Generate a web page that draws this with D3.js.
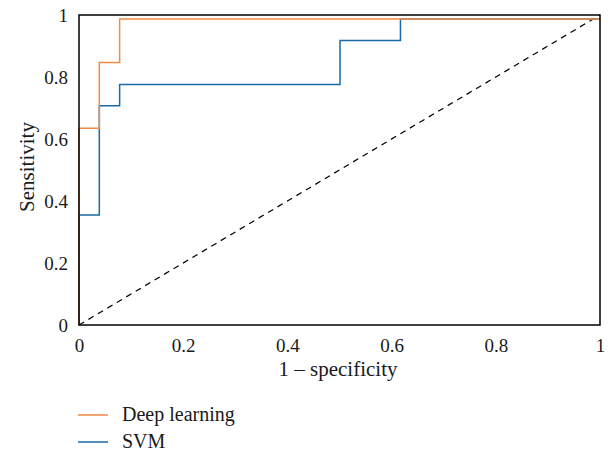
<!DOCTYPE html>
<html><head><meta charset="utf-8">
<script src="https://cdn.jsdelivr.net/npm/d3@7"></script>
<style>body{margin:0;background:#fff}svg text{font-family:"Liberation Serif","Times New Roman",serif !important;fill:#1a1a1a}</style>
</head><body><svg id="c" width="614" height="453"></svg>
<script>
const deepFPR = [0, 0, 0.039, 0.039, 0.078, 0.078, 1];
const deepTPR = [0, 0.635, 0.635, 0.847, 0.847, 0.987, 0.987];
const svmFPR = [0, 0, 0.039, 0.039, 0.078, 0.078, 0.501, 0.501, 0.617, 0.617, 1];
const svmTPR = [0, 0.355, 0.355, 0.707, 0.707, 0.776, 0.776, 0.918, 0.918, 0.987, 0.987];
const xTicks = [0, 0.2, 0.4, 0.6, 0.8, 1];
const yTicks = [0, 0.2, 0.4, 0.6, 0.8, 1];
const seriesNames = ["Deep learning", "SVM"];
const colors = ["#f38a42", "#1a6aa6"];

const svg = d3.select("#c");
const L = 79, R = 600, T = 15, B = 325;
const x = d3.scaleLinear().domain([0, 1]).range([L, R]);
const y = d3.scaleLinear().domain([0, 1]).range([B, T]);

svg.append("line").attr("x1", x(0)).attr("y1", y(0)).attr("x2", x(1)).attr("y2", y(1))
  .attr("stroke", "#000").attr("stroke-width", 1.2).attr("stroke-dasharray", "6,5");

const line = d3.line().x(d => x(d[0])).y(d => y(d[1]));
const svmPts = svmFPR.map((v, i) => [v, svmTPR[i]]);
const deepPts = deepFPR.map((v, i) => [v, deepTPR[i]]);
svg.append("path").datum(svmPts).attr("d", line).attr("fill", "none").attr("stroke", colors[1]).attr("stroke-width", 1.5);
svg.append("path").datum(deepPts).attr("d", line).attr("fill", "none").attr("stroke", colors[0]).attr("stroke-width", 1.5);

svg.append("rect").attr("x", L).attr("y", T).attr("width", R - L).attr("height", B - T)
  .attr("fill", "none").attr("stroke", "#000").attr("stroke-width", 1.5);

const fmt = d => d === 0 ? "0" : d === 1 ? "1" : d3.format(".1f")(d);
const xa = svg.append("g").attr("transform", `translate(0,${B})`)
  .call(d3.axisBottom(x).tickValues(xTicks).tickFormat(fmt).tickSize(0).tickPadding(14));
xa.attr("font-family", null).attr("font-size", null);
xa.select(".domain").remove();
xa.selectAll("text").attr("font-size", 19).style("font-size", "19px");
const ya = svg.append("g").attr("transform", `translate(${L},0)`)
  .call(d3.axisLeft(y).tickValues(yTicks).tickFormat(fmt).tickSize(0).tickPadding(11));
ya.attr("font-family", null).attr("font-size", null);
ya.select(".domain").remove();
ya.selectAll("text").attr("font-size", 19).style("font-size", "19px");

svg.append("text").attr("x", 338).attr("y", 376).attr("text-anchor", "middle").style("font-size", "21px").text("1 – specificity");
svg.append("text").attr("transform", "translate(34,167) rotate(-90)").attr("text-anchor", "middle").style("font-size", "21px").text("Sensitivity");

seriesNames.forEach((n, i) => {
  const yy = 415 + i * 27;
  svg.append("line").attr("x1", 78).attr("x2", 108).attr("y1", yy).attr("y2", yy).attr("stroke", colors[i]).attr("stroke-width", 1.5);
  svg.append("text").attr("x", 122).attr("y", yy + 6).style("font-size", "20px").text(n);
});
</script></body></html>
